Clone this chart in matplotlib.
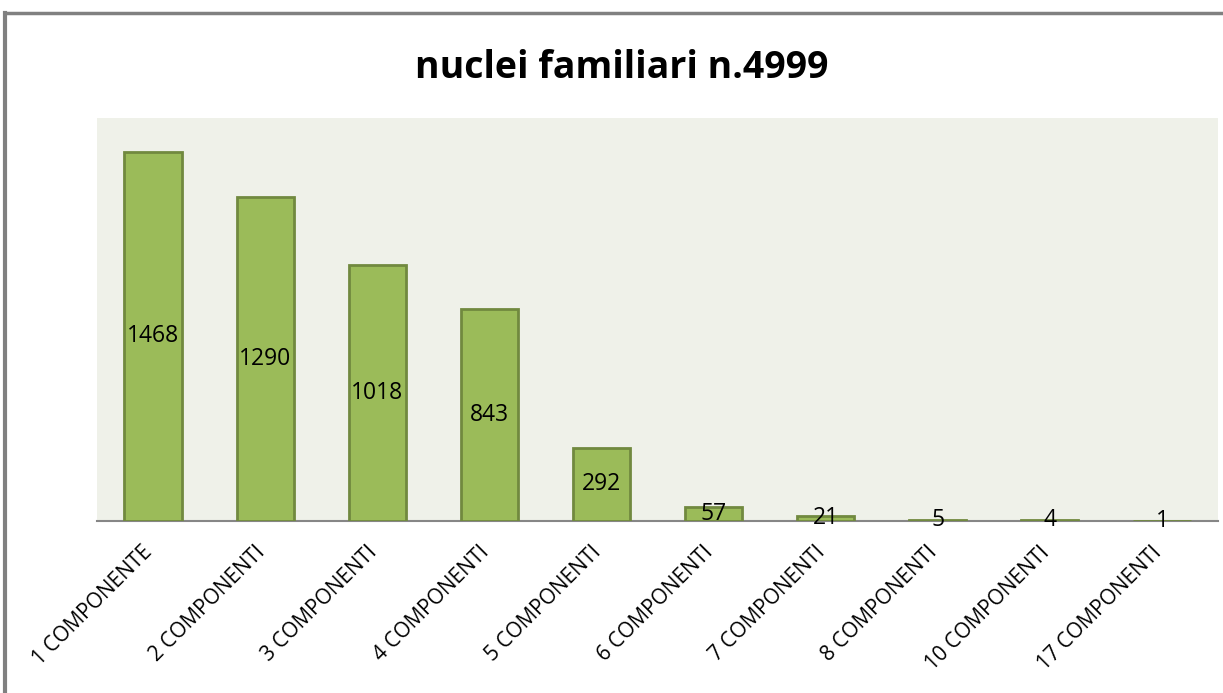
"""Recreate the 'nuclei familiari' bar chart."""
import matplotlib.pyplot as plt
from matplotlib.transforms import ScaledTranslation

# Data
CATEGORIES = [
    "1 COMPONENTE",
    "2 COMPONENTI",
    "3 COMPONENTI",
    "4 COMPONENTI",
    "5 COMPONENTI",
    "6 COMPONENTI",
    "7 COMPONENTI",
    "8 COMPONENTI",
    "10 COMPONENTI",
    "17 COMPONENTI",
]
COUNTS = [1468, 1290, 1018, 843, 292, 57, 21, 5, 4, 1]
TITLE = "nuclei familiari n.4999"

BAR_FILL = "#9bbb59"
BAR_EDGE = "#71893f"
PLOT_BG = "#eff1e9"
AXIS_GREY = "#868686"

plt.rcParams["font.family"] = ["Open Sans", "DejaVu Sans"]

W, H = 1223, 693
fig = plt.figure(figsize=(W / 100, H / 100), dpi=100)

# outer chart border (left and top only visible)
fig.add_artist(plt.Line2D([5 / W, 5 / W], [0, 1 - 13 / H], color="#808080", lw=3))
fig.add_artist(plt.Line2D([5 / W, 1], [1 - 13 / H, 1 - 13 / H], color="#808080", lw=2.5))

left, right, top, bottom = 97, 1218, 118, 521
ax = fig.add_axes([left / W, 1 - bottom / H, (right - left) / W, (bottom - top) / H])
ax.set_facecolor(PLOT_BG)

x = list(range(len(COUNTS)))
ax.bar(x, COUNTS, width=0.51, color=BAR_FILL, edgecolor=BAR_EDGE, linewidth=2, zorder=2)
ax.set_xlim(-0.5, len(COUNTS) - 0.5)
ax.set_ylim(0, 1603)

for xi, v in zip(x, COUNTS):
    ax.text(xi, v / 2, str(v), ha="center", va="center", fontsize=16.5, color="black", zorder=3)

for s in ("top", "right", "left"):
    ax.spines[s].set_visible(False)
ax.spines["bottom"].set_color(AXIS_GREY)
ax.spines["bottom"].set_linewidth(1.5)
ax.spines["bottom"].set_zorder(1)
ax.set_yticks([])
ax.set_xticks(x)
ax.set_xticklabels(CATEGORIES, rotation=45, ha="right", rotation_mode="anchor", fontsize=15)
ax.tick_params(axis="x", length=0, pad=15)
offset = ScaledTranslation(-11 / 100, 0, fig.dpi_scale_trans)
for lab in ax.get_xticklabels():
    lab.set_transform(lab.get_transform() + offset)

fig.text(622 / W, 1 - 68 / H, TITLE, ha="center", va="center", fontsize=27, fontweight="bold")

fig.savefig("out.png", dpi=100, facecolor="white")
